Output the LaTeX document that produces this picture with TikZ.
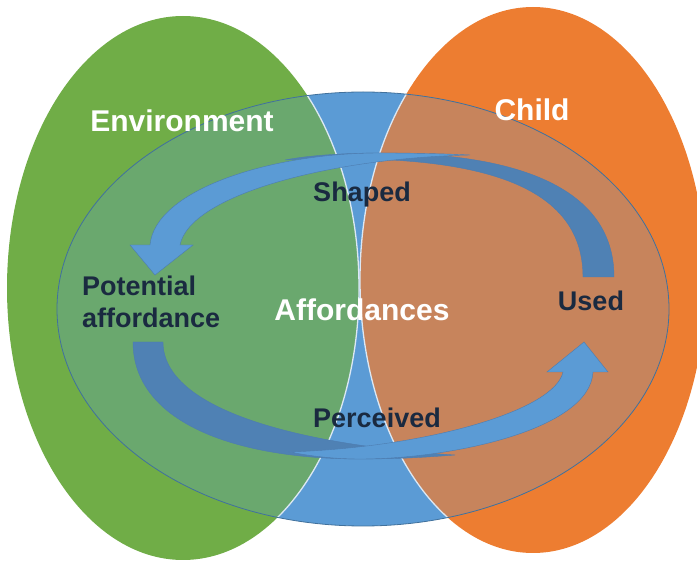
\documentclass[tikz,border=0pt]{standalone}
\usepackage{fontspec}
\setmainfont{Liberation Sans}
\definecolor{envGreen}{HTML}{70AD47}
\definecolor{childOrange}{HTML}{ED7D31}
\definecolor{affBlue}{HTML}{5B9BD5}
\definecolor{inGreen}{HTML}{6AA86E}
\definecolor{inOrange}{HTML}{C7845C}
\definecolor{rimBlue}{HTML}{41719C}
\definecolor{edgeWhite}{HTML}{DCE8F4}
\definecolor{arrDarkC}{HTML}{4F81B4}
\definecolor{arrLineC}{HTML}{4D7CB0}
\definecolor{labelInk}{HTML}{1A2A40}
\tikzset{
  arrowdark/.style={fill=arrDarkC, draw=arrLineC, line width=0.4pt},
  arrowlight/.style={fill=affBlue, draw=arrLineC, line width=0.4pt},
  titletext/.style={text=white, font=\bfseries\fontsize{30}{36}\selectfont, inner sep=0pt, anchor=base},
  labeltext/.style={text=labelInk, font=\bfseries\fontsize{27}{32}\selectfont, inner sep=0pt, anchor=base}
}
\begin{document}
\begin{tikzpicture}[x=1pt,y=-1pt]
\useasboundingbox (0,0) rectangle (697,561);
\clip (0,0) rectangle (697,561);
% outer ellipses
\fill[envGreen] (183,288) ellipse [x radius=176, y radius=272];
\fill[childOrange] (533,280) ellipse [x radius=173, y radius=273];
% inner blue ellipse and tinted overlaps
\begin{scope}
  \clip (363,309) ellipse [x radius=306, y radius=217];
  \fill[affBlue] (363,309) ellipse [x radius=306, y radius=217];
  \fill[inGreen] (183,288) ellipse [x radius=176, y radius=272];
  \fill[inOrange] (533,280) ellipse [x radius=173, y radius=273];
  \draw[edgeWhite, line width=1.3pt] (183,288) ellipse [x radius=176, y radius=272];
  \draw[edgeWhite, line width=1.3pt] (533,280) ellipse [x radius=173, y radius=273];
\end{scope}
\draw[rimBlue, line width=0.8pt] (363,309) ellipse [x radius=306, y radius=217];
% top curved arrow (Used -> Potential affordance)
\draw[arrowdark] (614,277) .. controls (614,180) and (500,153) .. (380,153)
  .. controls (340,153) and (305,156) .. (285,160)
  .. controls (470,152) and (583,180) .. (583,277) -- cycle;
\draw[arrowlight] (180,245) -- (193,245) -- (155,275) -- (130,245) -- (150,245)
  .. controls (155,190) and (270,153) .. (380,153)
  .. controls (420,153) and (450,154) .. (470,155)
  .. controls (330,158) and (190,195) .. (180,245) -- cycle;
% bottom curved arrow (Potential affordance -> Used)
\draw[arrowdark] (133,342) .. controls (133,420) and (230,459) .. (360,459)
  .. controls (400,459) and (430,457) .. (455,455)
  .. controls (300,445) and (163,410) .. (163,342) -- cycle;
\draw[arrowlight] (563,372) -- (547,372) -- (584,342) -- (608,372) -- (593,372)
  .. controls (590,430) and (450,459) .. (360,459)
  .. controls (330,459) and (305,455) .. (290,452)
  .. controls (430,447) and (555,410) .. (563,372) -- cycle;
% texts
\node[titletext] (env) at (182,132) {Environment};
\node[titletext] (child) at (532,121) {Child};
\node[titletext] (aff) at (362,321) {Affordances};
\node[labeltext] (shaped) at (362,202) {Shaped};
\node[labeltext] (perceived) at (377,428) {Perceived};
\node[labeltext] (used) at (591,311) {Used};
\node[labeltext, anchor=base west] (pot1) at (82,296) {Potential};
\node[labeltext, anchor=base west] (pot2) at (82,328) {affordance};
\end{tikzpicture}
\end{document}
